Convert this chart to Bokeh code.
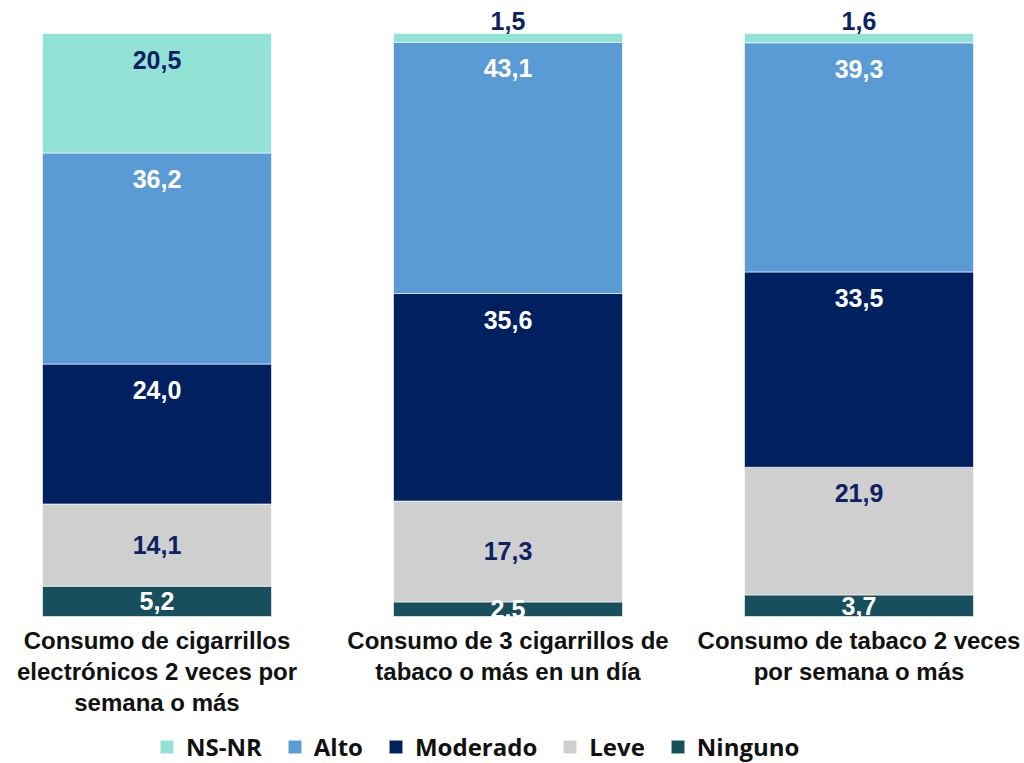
from bokeh.plotting import figure
from bokeh.models import ColumnDataSource, Range1d, Legend, LegendItem
from bokeh.core.properties import value
from bokeh.embed import file_html
from bokeh.resources import INLINE

# ---- data ----
categories = [
    "Consumo de cigarrillos\nelectrónicos 2 veces por\nsemana o más",
    "Consumo de 3 cigarrillos de\ntabaco o más en un día",
    "Consumo de tabaco 2 veces\npor semana o más",
]
series = ["Ninguno", "Leve", "Moderado", "Alto", "NS-NR"]  # bottom -> top
ninguno = [5.2, 2.5, 3.7]
leve = [14.1, 17.3, 21.9]
moderado = [24.0, 35.6, 33.5]
alto = [36.2, 43.1, 39.3]
nsnr = [20.5, 1.5, 1.6]
legend_order = ["NS-NR", "Alto", "Moderado", "Leve", "Ninguno"]

colors = {"Ninguno": "#17505C", "Leve": "#CFCFCF", "Moderado": "#002060",
          "Alto": "#5B9BD5", "NS-NR": "#92E3D6"}
label_colors = {"Ninguno": "white", "Leve": "#0D2163", "Moderado": "white",
                "Alto": "white", "NS-NR": "#0D2163"}

values = {"Ninguno": ninguno, "Leve": leve, "Moderado": moderado,
          "Alto": alto, "NS-NR": nsnr}

xs = list(range(len(categories)))
src = ColumnDataSource(dict(x=xs, **values))

W, H = 1024, 763
px_per_unit = 5.83
y_top_px, y_zero_px = 33, 616
ymax = 100 + y_top_px / px_per_unit
ymin = -(H - y_zero_px) / px_per_unit
step = 351.0
x0_px = 156.5

p = figure(width=W, height=H, output_backend="svg", toolbar_location=None,
           x_range=Range1d(-x0_px / step, (W - x0_px) / step),
           y_range=Range1d(ymin, ymax),
           x_axis_location=None, y_axis_location=None,
           min_border=0, outline_line_color=None)
p.xgrid.visible = False
p.ygrid.visible = False

renderers = p.vbar_stack(series, x="x", width=229 / step, source=src,
                         color=[colors[s] for s in series],
                         line_color="white", line_width=0.6)
rmap = dict(zip(series, renderers))

# value labels
lx, ly, lt, lc, loff = [], [], [], [], []
for i in xs:
    bottom = 0.0
    for s in series:
        v = values[s][i]
        top = bottom + v
        if v < 3 and s == "NS-NR":
            y, off = top, -13
        elif v < 18:
            y, off = (bottom + top) / 2, 0
        else:
            y, off = top, 26
        lx.append(i); ly.append(y); lt.append(f"{v:.1f}".replace(".", ","))
        lc.append(label_colors[s]); loff.append(off)
        bottom = top
lsrc = ColumnDataSource(dict(x=lx, y=ly, t=lt, c=lc, off=loff))
p.text(x="x", y="y", text="t", source=lsrc, text_color="c", y_offset="off",
       text_align="center", text_baseline="middle",
       text_font=value("Liberation Sans"), text_font_style="bold",
       text_font_size="25px")

# category labels
p.text(x=xs, y=[0] * len(xs), text=categories, y_offset=10,
       text_align="center", text_baseline="top",
       text_font=value("Liberation Sans"), text_font_style="bold",
       text_font_size="24px", text_color="#111111", text_line_height=1.16)

legend = Legend(items=[LegendItem(label=s, renderers=[rmap[s]]) for s in legend_order],
                orientation="horizontal", location=(158, 0),
                glyph_width=17, glyph_height=17, label_standoff=11, spacing=24,
                padding=0, margin=0, border_line_color=None, background_fill_alpha=0,
                label_text_font="Open Sans", label_text_font_style="bold",
                label_text_font_size="24px", label_text_color="#111111")
p.add_layout(legend, "center")

open("out.html", "w").write(file_html(p, INLINE))
